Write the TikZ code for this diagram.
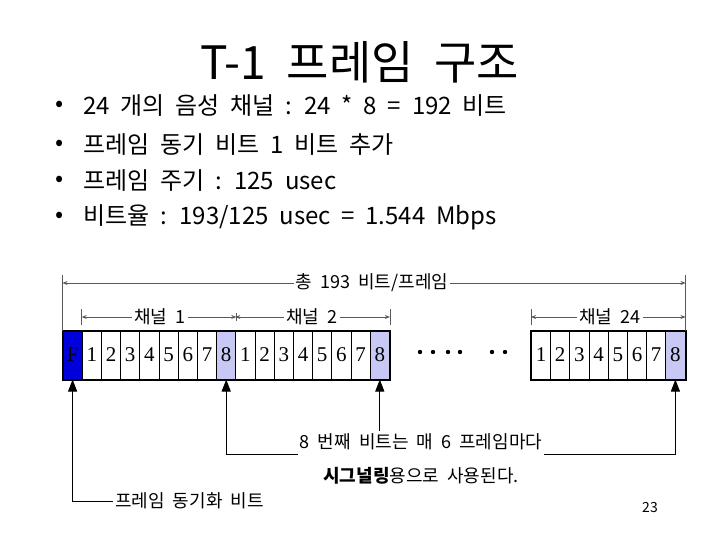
\documentclass[tikz,border=0pt]{standalone}
\usepackage{fontspec}
\setmainfont{Noto Sans CJK KR}[WordSpace=2]
\newfontfamily\bitfont{Liberation Serif}
\usetikzlibrary{arrows.meta}
\definecolor{syncblue}{RGB}{0,0,220}
\definecolor{sigbit}{RGB}{200,200,245}

\begin{document}
\begin{tikzpicture}[x=1pt, y=-1pt,
  bit/.style={draw, line width=1pt, minimum width=19.2pt, minimum height=48pt, inner sep=0pt, font=\fontsize{21}{21}\bitfont},
  dim/.style={black!65, line width=0.8pt, -{Stealth[length=5pt,width=4pt]}},
  tickline/.style={black!65, line width=0.8pt},
  lbl/.style={fill=white, inner sep=2pt, font=\fontsize{18}{18}\selectfont},
  sig/.style={line width=1pt, {Triangle[length=12pt,width=9pt]}-},
  item/.style={anchor=west, inner sep=0pt, font=\fontsize{24}{24}\selectfont}]
\useasboundingbox (0,0) rectangle (720,540);

% Title
\node (title) at (360,62) {\fontsize{46}{46}\selectfont T-1 프레임 구조};

% Bullet list
\node[item] (b1) at (55,106) {•}; \node[item] (t1) at (83,106) {24 개의 음성 채널 : 24 * 8 = 192 비트};
\node[item] (b2) at (55,145) {•}; \node[item] (t2) at (83,145) {프레임 동기 비트 1 비트 추가};
\node[item] (b3) at (55,181) {•}; \node[item] (t3) at (83,181) {프레임 주기 : 125 usec};
\node[item] (b4) at (55,217) {•}; \node[item] (t4) at (83,217) {비트율 : 193/125 usec = 1.544 Mbps};

% Frame bit and channels 1, 2
\node[bit, fill=syncblue] (c0) at (72.6,355) {F};
\foreach \i in {1,...,16} {
  \pgfmathtruncatemacro\n{mod(\i-1,8)+1}
  \ifnum\n=8 \def\bitfill{sigbit}\else \def\bitfill{white}\fi
  \node[bit, fill=\bitfill] (c\i) at (72.6+19.2*\i,355) {\n};
}
% Channel 24
\foreach \n in {1,...,8} {
  \ifnum\n=8 \def\bitfill{sigbit}\else \def\bitfill{white}\fi
  \node[bit, fill=\bitfill] (d\n) at (521.8+19.2*\n,355) {\n};
}
\draw[line width=2pt] (c0.north west) rectangle (c16.south east);
\draw[line width=2pt] (d1.north west) rectangle (d8.south east);

% Dots
\foreach \x in {420,433,448,460,492,505} \fill (\x,352) circle (2.2pt);

% Total length
\node[lbl] (total) at (372,283) {총 193 비트/프레임};
\draw[tickline] (c0.north west) -- ++(0,-56);
\draw[tickline] (d8.north east) -- ++(0,-56);
\draw[dim] (total) -- (c0.north west |- total);
\draw[dim] (total) -- (d8.north east |- total);

% Channel widths
\node[lbl] (ch1) at (160,317) {채널 1};
\node[lbl] (ch2) at (312,317) {채널 2};
\node[lbl] (ch24) at (610,317) {채널 24};
\draw[dim] (ch1) -- (c1.north west |- ch1);
\draw[dim] (ch1) -- (c8.north east |- ch1);
\draw[dim] (ch2) -- (c9.north west |- ch2);
\draw[dim] (ch2) -- (c16.north east |- ch2);
\draw[dim] (ch24) -- (d1.north west |- ch24);
\draw[dim] (ch24) -- (d8.north east |- ch24);
\draw[tickline] (c1.north west |- ch1) ++(0,-8) -- ++(0,16);
\draw[tickline] (c8.north east |- ch1) ++(0,-4) -- ++(0,8);
\draw[tickline] (c16.north east |- ch2) ++(0,-8) -- ++(0,16);
\draw[tickline] (d1.north west |- ch24) ++(0,-8) -- ++(0,16);

% Annotations
\node[lbl, anchor=west] (fsync) at (113,501) {프레임 동기화 비트};
\node[lbl, align=center] (note) at (421,459) {8 번째 비트는 매 6 프레임마다\\[16pt]{\bfseries 시그널링}용으로 사용된다.};
\draw[sig] (c0.south) |- (fsync.west);
\draw[sig] (c8.south) |- ([yshift=5pt]note.west);
\draw[sig] (c16.south) -- (c16.south |- note.north);
\draw[sig] (d8.south) |- ([yshift=5pt]note.east);

% Page number
\node (pg) at (650,508) {\fontsize{14}{14}\selectfont 23};
\end{tikzpicture}
\end{document}
